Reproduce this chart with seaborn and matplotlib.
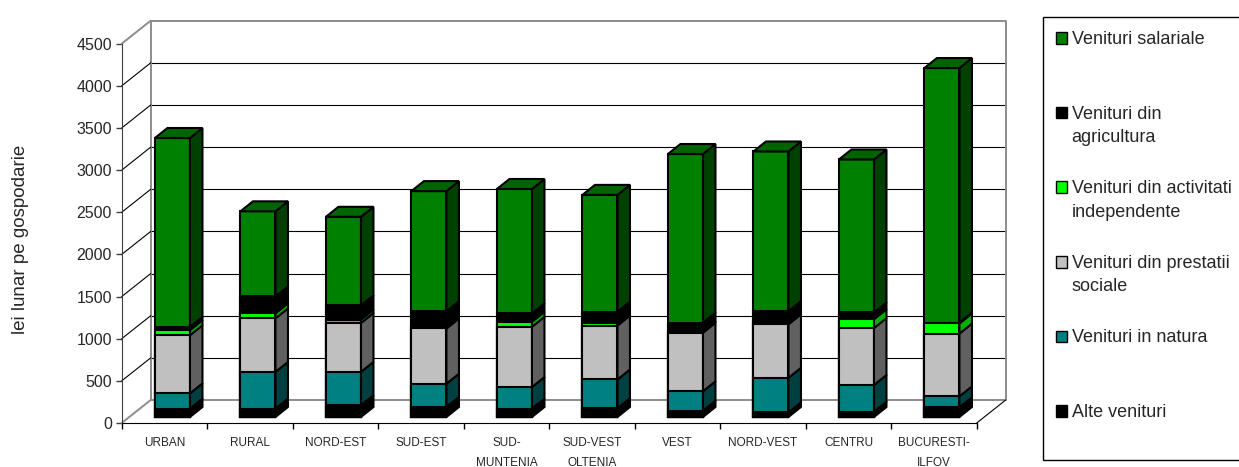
import numpy as np
import pandas as pd
import matplotlib
matplotlib.use("Agg")
import matplotlib.pyplot as plt
import seaborn as sns
from matplotlib.patches import Polygon, Rectangle
from matplotlib.lines import Line2D
from matplotlib.transforms import offset_copy, IdentityTransform

# values (lei / month / household)
categories = ["URBAN", "RURAL", "NORD-EST", "SUD-EST", "SUD-\nMUNTENIA",
              "SUD-VEST\nOLTENIA", "VEST", "NORD-VEST", "CENTRU", "BUCURESTI-\nILFOV"]
alte = [100, 100, 140, 120, 100, 105, 75, 55, 65, 115]
natura = [180, 435, 395, 275, 255, 340, 230, 410, 315, 130]
prestatii = [690, 635, 580, 655, 715, 640, 695, 635, 675, 745]
activitati = [60, 60, 40, 25, 60, 30, 20, 30, 105, 120]
agricultura = [40, 200, 170, 180, 100, 135, 100, 125, 80, 10]
salariale = [2240, 1010, 1050, 1425, 1475, 1385, 2000, 1895, 1815, 3020]

cols = ["alte", "natura", "prestatii", "activitati", "agricultura", "salariale"]
labels = ["Alte venituri", "Venituri in natura", "Venituri din prestatii\nsociale",
          "Venituri din activitati\nindependente", "Venituri din\nagricultura",
          "Venituri salariale"]
front_colors = ["#000000", "#008080", "#C0C0C0", "#00FF00", "#000000", "#008000"]
side_colors = ["#000000", "#004040", "#606060", "#00B000", "#000000", "#004000"]
top_color = "#006400"

df = pd.DataFrame({"region": categories, "alte": alte, "natura": natura,
                   "prestatii": prestatii, "activitati": activitati,
                   "agricultura": agricultura, "salariale": salariale})
cum = df[cols].cumsum(axis=1)

W, H, DPI = 1239, 467, 100
WALL_DX, WALL_DY = 29, 23      # depth of the back wall (px)
BAR_DX, BAR_DY = 8, 6          # bars sit a bit behind the front axis
DEPTH_DX, DEPTH_DY = 12.5, 10  # bar depth
BAR_W = 0.41

sns.set_style("white")
plt.rcParams["font.family"] = ["Liberation Sans", "DejaVu Sans"]

fig = plt.figure(figsize=(W / DPI, H / DPI), dpi=DPI)
ax = fig.add_axes([121.7 / W, (H - 423) / H, 855 / W, 379.3 / H])

# stacked bars: draw cumulative totals from the top layer down
for k in range(len(cols) - 1, -1, -1):
    sns.barplot(x=df["region"], y=cum[cols[k]], order=categories,
                color=front_colors[k], saturation=1, width=BAR_W,
                edgecolor="black", linewidth=1.5, errorbar=None, ax=ax, zorder=3)

ax.set_xlim(-0.5, 9.5)
ax.set_ylim(0, 4500)
ax.set_xlabel("")
ax.set_ylabel("")

bar_tr = offset_copy(ax.transData, fig=fig, x=BAR_DX, y=BAR_DY, units="dots")
for p in ax.patches:
    p.set_transform(bar_tr)


def px(x, y, dx=0.0, dy=0.0):
    pt = ax.transData.transform((x, y))
    return np.array([pt[0] + dx, pt[1] + dy])


# side and top faces of each bar
d = np.array([DEPTH_DX, DEPTH_DY])
for i in range(len(categories)):
    xr = i + BAR_W / 2
    xl = i - BAR_W / 2
    lo = 0
    for k, c in enumerate(cols):
        hi = cum[c].iloc[i]
        a = px(xr, lo, BAR_DX, BAR_DY)
        b = px(xr, hi, BAR_DX, BAR_DY)
        ax.add_patch(Polygon([a, b, b + d, a + d], closed=True, transform=IdentityTransform(),
                             facecolor=side_colors[k], edgecolor="black", lw=1.5,
                             zorder=4, clip_on=False))
        lo = hi
    tl = px(xl, lo, BAR_DX, BAR_DY)
    tr = px(xr, lo, BAR_DX, BAR_DY)
    ax.add_patch(Polygon([tl, tr, tr + d, tl + d], closed=True, transform=IdentityTransform(),
                         facecolor=top_color, edgecolor="black", lw=1.5, zorder=4, clip_on=False))

# back wall with gridlines, left wall and floor
ticks = np.arange(0, 4501, 500)
wall_tr = offset_copy(ax.transData, fig=fig, x=WALL_DX, y=WALL_DY, units="dots")
for v in ticks[1:-1]:
    ax.plot([-0.5, 9.5], [v, v], color="black", lw=0.8, transform=wall_tr, zorder=1, clip_on=False)
ax.plot([-0.5, 9.5, 9.5, -0.5, -0.5], [4500, 4500, 0, 0, 4500], color="#8c8c8c", lw=1.4,
        transform=wall_tr, zorder=1, clip_on=False)
for v in ticks:
    a = px(-0.5, v)
    b = px(-0.5, v, WALL_DX, WALL_DY)
    col = "#8c8c8c" if v in (0, 4500) else "black"
    ax.add_line(Line2D([a[0], b[0]], [a[1], b[1]], color=col, lw=0.8 if col == "black" else 1.4,
                       transform=IdentityTransform(), zorder=1, clip_on=False))
a = px(9.5, 0)
b = px(9.5, 0, WALL_DX, WALL_DY)
ax.add_line(Line2D([a[0], b[0]], [a[1], b[1]], color="black", lw=0.8,
                   transform=IdentityTransform(), zorder=1, clip_on=False))

# axes styling
sns.despine(ax=ax, top=True, right=True)
ax.spines["left"].set_color("#404040")
ax.spines["bottom"].set_color("black")
ax.set_yticks(ticks)
ax.tick_params(axis="y", left=True, direction="out", length=4.5, width=1, color="#404040",
               pad=2.5, labelsize=11.5)
ax.set_xticks(range(len(categories)))
ax.set_xticklabels(categories)
ax.set_xticks(np.arange(-0.5, len(categories), 1), minor=True)
ax.tick_params(axis="x", which="major", bottom=True, length=0, pad=10, labelsize=8.5)
ax.tick_params(axis="x", which="minor", bottom=True, direction="out", length=4.5, width=1,
               color="black")
for lbl in ax.get_xticklabels():
    lbl.set_linespacing(1.95)

fig.text(21 / W, 1 - 239 / H, "lei lunar pe gospodarie", rotation=90,
         ha="center", va="center", fontsize=13.5)

# legend box drawn by hand
fig.add_artist(Rectangle((1043 / W, 1 - 460 / H), (W + 10 - 1043) / W, 443 / H,
                         transform=fig.transFigure, fill=False, edgecolor="black", lw=1))
for j, k in enumerate(range(len(cols) - 1, -1, -1)):
    cy = 38 + j * 74.6
    fig.add_artist(Rectangle((1055.5 / W, 1 - (cy + 5.75) / H), 11.5 / W, 11.5 / H,
                             transform=fig.transFigure, facecolor=front_colors[k],
                             edgecolor="black", lw=1))
    fig.text(1071.5 / W, 1 - (cy - 7) / H, labels[k], fontsize=13, ha="left",
             va="top", linespacing=1.49)

fig.savefig("out.png", dpi=DPI, facecolor="white")
